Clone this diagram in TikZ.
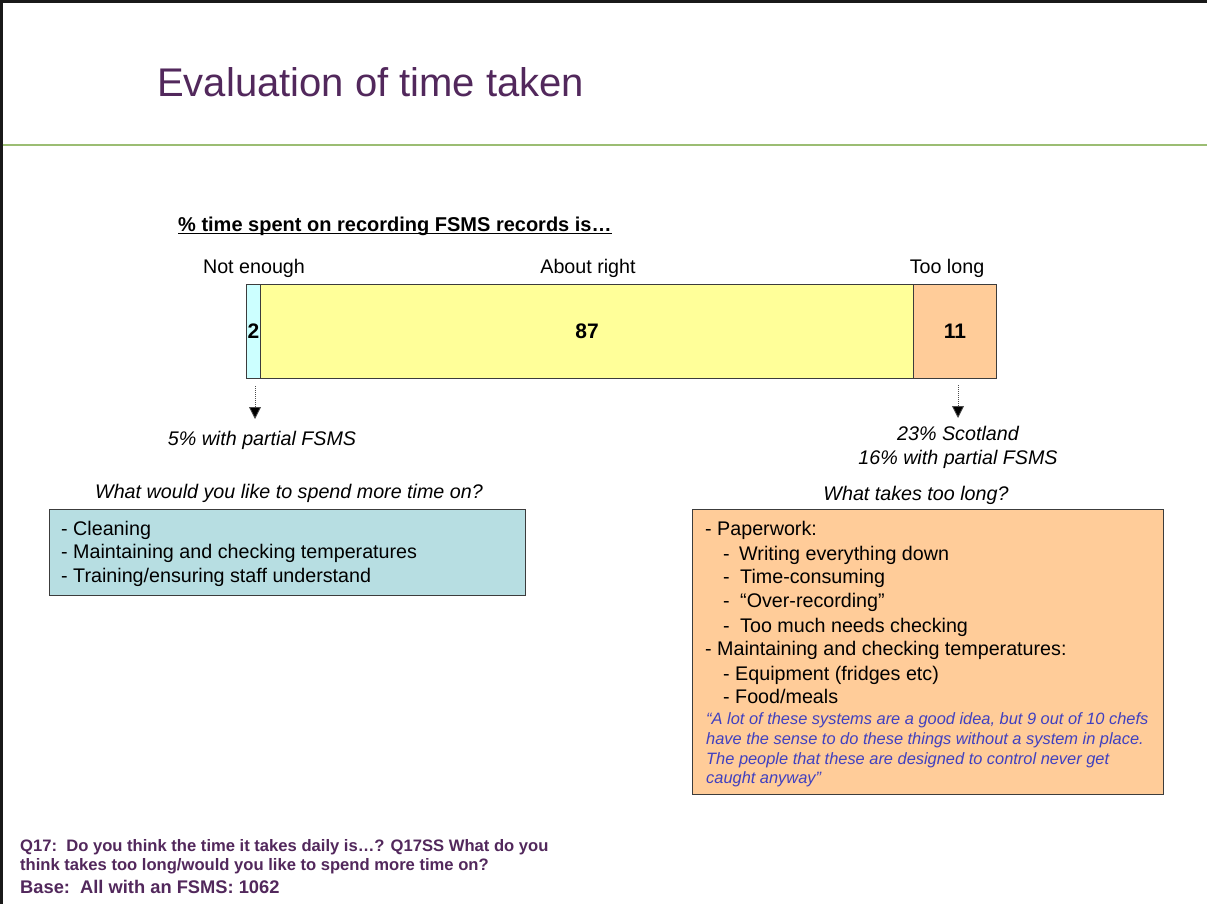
\documentclass[tikz,border=0pt]{standalone}
\usepackage{fontspec}
\setmainfont{Liberation Sans}
\usetikzlibrary{arrows.meta}
\definecolor{titlepurple}{RGB}{82,40,92}
\definecolor{rulegreen}{RGB}{155,189,115}
\definecolor{segcyan}{RGB}{204,255,255}
\definecolor{segyellow}{RGB}{255,255,153}
\definecolor{segorange}{RGB}{255,204,153}
\definecolor{boxteal}{RGB}{183,222,226}
\definecolor{quoteblue}{RGB}{64,64,192}
\definecolor{edgegray}{RGB}{60,60,60}
\newcommand{\fs}[1]{\fontsize{#1}{#1}\selectfont}
\begin{document}
\begin{tikzpicture}[x=1pt,y=-1pt,
  txt/.style={inner sep=0pt,anchor=base west,font=\fs{19.7}},
  ctxt/.style={inner sep=0pt,anchor=base,font=\fs{19.7}},
  seg/.style={draw=edgegray,line width=1pt,inner sep=0pt,anchor=north west,
    minimum height=94pt,font=\bfseries\fs{21}},
  listbox/.style={draw=edgegray,line width=1pt,inner sep=0pt,anchor=north west},
  quote/.style={inner sep=0pt,anchor=base west,font=\itshape\fs{16.4},text=quoteblue},
  foot/.style={inner sep=0pt,anchor=base west,text=titlepurple},
  pointer/.style={draw=black!70,line width=0.8pt,dash pattern=on 1pt off 1pt,
    -{Triangle[width=12pt,length=12pt,fill=black]}}]
\useasboundingbox (0,0) rectangle (1207,904);
\fill[white] (0,0) rectangle (1207,904);
% slide frame and heading rule
\draw[line width=2.2pt,black!90] (0,1.5) -- (1207,1.5);
\draw[line width=2.2pt,black!90] (1.5,0) -- (1.5,904);
\draw[line width=2.2pt,rulegreen] (2.5,145) -- (1207,145);
% heading
\node[inner sep=0pt,anchor=base west,font=\fs{40},text=titlepurple] (title) at (157,97) {Evaluation of time taken};
% chart caption
\node[inner sep=0pt,anchor=base west,font=\bfseries\fs{20}] (sub) at (178,231) {\% time spent on recording FSMS records is…};
\draw[line width=1.3pt] ([yshift=-2.6pt]sub.base west) -- ([yshift=-2.6pt]sub.base east);
% stacked bar
\node[seg,fill=segcyan,minimum width=14pt] (notenough) at (246,284) {2};
\node[seg,fill=segyellow,minimum width=653pt] (aboutright) at (260,284) {87};
\node[seg,fill=segorange,minimum width=83pt] (toolong) at (913,284) {11};
% category labels
\node[ctxt] (lblnot) at (254,273) {Not enough};
\node[ctxt] (lblabout) at (588,273) {About right};
\node[ctxt] (lbltoo) at (947,273) {Too long};
% pointers to sub-group figures
\coordinate (p1s) at (255,386);
\coordinate (p1e) at (255,419);
\coordinate (p2s) at (958,385);
\coordinate (p2e) at (958,418);
\draw[pointer] (p1s) -- (p1e);
\draw[pointer] (p2s) -- (p2e);
\node[ctxt,font=\itshape\fs{19.7}] (notnote) at (262,445) {5\% with partial FSMS};
\node[ctxt,font=\itshape\fs{19.7}] (toonote1) at (958,440) {23\% Scotland};
\node[ctxt,font=\itshape\fs{19.7}] (toonote2) at (958,464) {16\% with partial FSMS};
% left list
\node[ctxt,font=\itshape\fs{19.7}] (qmore) at (289,498) {What would you like to spend more time on?};
\node[listbox,fill=boxteal,minimum width=476pt,minimum height=86pt] (morebox) at (49,509) {};
\node[txt] (m1) at (61,535) {- Cleaning};
\node[txt] (m2) at (61,558) {- Maintaining and checking temperatures};
\node[txt] (m3) at (61,582) {- Training/ensuring staff understand};
% right list
\node[ctxt,font=\itshape\fs{19.7}] (qlong) at (916,500) {What takes too long?};
\node[listbox,fill=segorange,minimum width=471pt,minimum height=285pt] (longbox) at (692,509) {};
\node[txt] (l1) at (705,535) {- Paperwork:};
\node[txt] (l2d) at (723,560) {-};
\node[txt] (l2) at (739,560) {Writing everything down};
\node[txt] (l3d) at (723,583) {-};
\node[txt] (l3) at (740,583) {Time-consuming};
\node[txt] (l4d) at (723,607) {-};
\node[txt] (l4) at (740,607) {“Over-recording”};
\node[txt] (l5d) at (723,632) {-};
\node[txt] (l5) at (740,632) {Too much needs checking};
\node[txt] (l6) at (705,655) {- Maintaining and checking temperatures:};
\node[txt] (l7) at (723,680) {- Equipment (fridges etc)};
\node[txt] (l8) at (723,703) {- Food/meals};
\node[quote] (q1) at (706,724) {“A lot of these systems are a good idea, but 9 out of 10 chefs};
\node[quote] (q2) at (706,744) {have the sense to do these things without a system in place.};
\node[quote] (q3) at (706,764) {The people that these are designed to control never get};
\node[quote] (q4) at (706,783) {caught anyway”};
% question reference and base
\node[foot,font=\bfseries\fs{16.6}] (f1) at (20,851) {Q17:\ \ Do you think the time it takes daily is…? Q17SS What do you};
\node[foot,font=\bfseries\fs{16.6}] (f2) at (20,870) {think takes too long/would you like to spend more time on?};
\node[foot,font=\bfseries\fs{18.3}] (f3) at (20,893) {Base:\ \ All with an FSMS: 1062};
\end{tikzpicture}
\end{document}
